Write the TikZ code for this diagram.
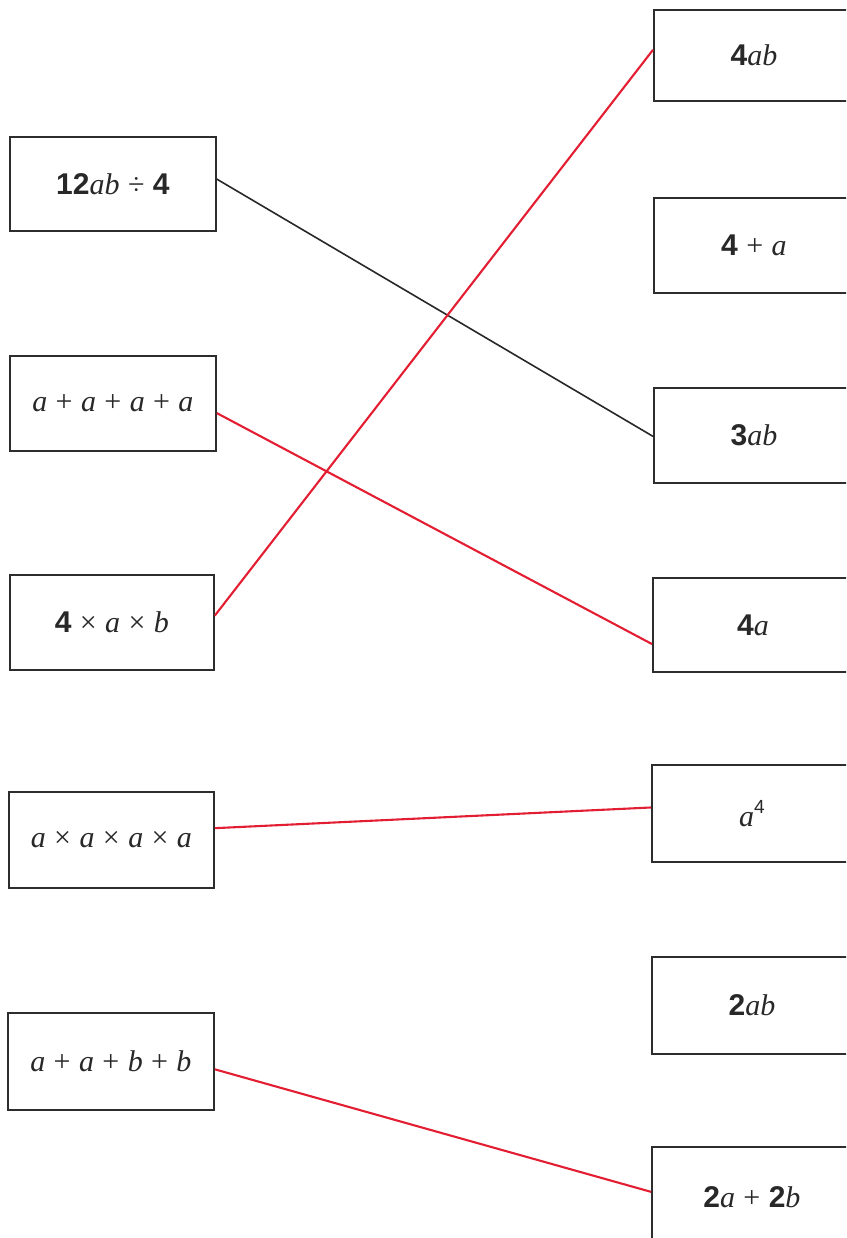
\documentclass[tikz,border=0pt]{standalone}
\usepackage{fontspec}
\setmainfont{Liberation Serif}
\newfontfamily\digitfont{Liberation Sans}
\usetikzlibrary{calc}
\definecolor{boxline}{RGB}{45,45,45}
\definecolor{ink}{RGB}{40,40,40}
\definecolor{penred}{RGB}{228,30,50}
\definecolor{penblack}{RGB}{40,40,40}
% digits in bold sans, letters in serif italic, operators with a little air
\newcommand{\nd}[1]{{\digitfont\bfseries #1}}
\newcommand{\vr}[1]{\textit{#1}}
\newcommand{\op}[1]{\hspace{0.28em}#1\hspace{0.28em}}
\tikzset{
  card/.style={draw=boxline, line width=1.8pt, fill=white, rectangle,
    anchor=north west, inner sep=0pt, minimum height=95pt, text=ink,
    font=\fontsize{30}{32}\selectfont},
  lcard/.style={card, minimum width=206pt},
  rcard/.style={card, minimum width=200pt},
  redlink/.style={draw=penred, line width=2.1pt},
  blacklink/.style={draw=penblack, line width=1.6pt}
}
\begin{document}
\begin{tikzpicture}[x=1pt, y=-1pt]
\useasboundingbox (0,0) rectangle (846,1238);
\fill[white] (0,0) rectangle (846,1238);
\clip (0,0) rectangle (846,1238);

% left column
\node[lcard, minimum height=94pt] (l1) at (9,136) {\nd{12}\vr{ab}\op{÷}\nd{4}};
\node[lcard] (l2) at (9,355) {\vr{a}\op{+}\vr{a}\op{+}\vr{a}\op{+}\vr{a}};
\node[lcard, minimum width=204pt] (l3) at (9,574) {\nd{4}\op{×}\vr{a}\op{×}\vr{b}};
\node[lcard, minimum width=205pt, minimum height=96pt] (l4) at (8,791) {\vr{a}\op{×}\vr{a}\op{×}\vr{a}\op{×}\vr{a}};
\node[lcard, minimum width=206pt, minimum height=97pt] (l5) at (7,1012) {\vr{a}\op{+}\vr{a}\op{+}\vr{b}\op{+}\vr{b}};

% right column (runs past the right edge)
\node[rcard, minimum height=91pt] (r1) at (653,9) {\nd{4}\vr{ab}};
\node[rcard] (r2) at (653,197) {\nd{4}\op{+}\vr{a}};
\node[rcard] (r3) at (653,387) {\nd{3}\vr{ab}};
\node[rcard, minimum height=94pt] (r4) at (652,577) {\nd{4}\vr{a}};
\node[rcard, minimum height=97pt] (r5) at (651,764) {\vr{a}\raisebox{0.42em}{\digitfont\fontsize{19}{19}\selectfont 4}};
\node[rcard, minimum height=97pt] (r6) at (651,956) {\nd{2}\vr{ab}};
\node[rcard, minimum height=110pt] (r7) at (651,1146) {\raisebox{10pt}{\nd{2}\vr{a}\op{+}\nd{2}\vr{b}}};

% attachment points on the card edges
\coordinate (a1) at ($(l1.north east)!0.45!(l1.south east)$);
\coordinate (b3) at ($(r3.north west)!0.51!(r3.south west)$);
\coordinate (a3) at ($(l3.north east)!0.43!(l3.south east)$);
\coordinate (b1) at ($(r1.north west)!0.44!(r1.south west)$);
\coordinate (a2) at ($(l2.north east)!0.60!(l2.south east)$);
\coordinate (b4) at ($(r4.north west)!0.70!(r4.south west)$);
\coordinate (a4) at ($(l4.north east)!0.38!(l4.south east)$);
\coordinate (b5) at ($(r5.north west)!0.44!(r5.south west)$);
\coordinate (a5) at ($(l5.north east)!0.58!(l5.south east)$);
\coordinate (b7) at ($(r7.north west)!0.41!(r7.south west)$);

% matching lines
\draw[blacklink] (a1) -- (b3);
\draw[redlink] (a3) -- (b1);
\draw[redlink] (a2) -- (b4);
\draw[redlink] (a4) -- (b5);
\draw[redlink] (a5) -- (b7);
\end{tikzpicture}
\end{document}
